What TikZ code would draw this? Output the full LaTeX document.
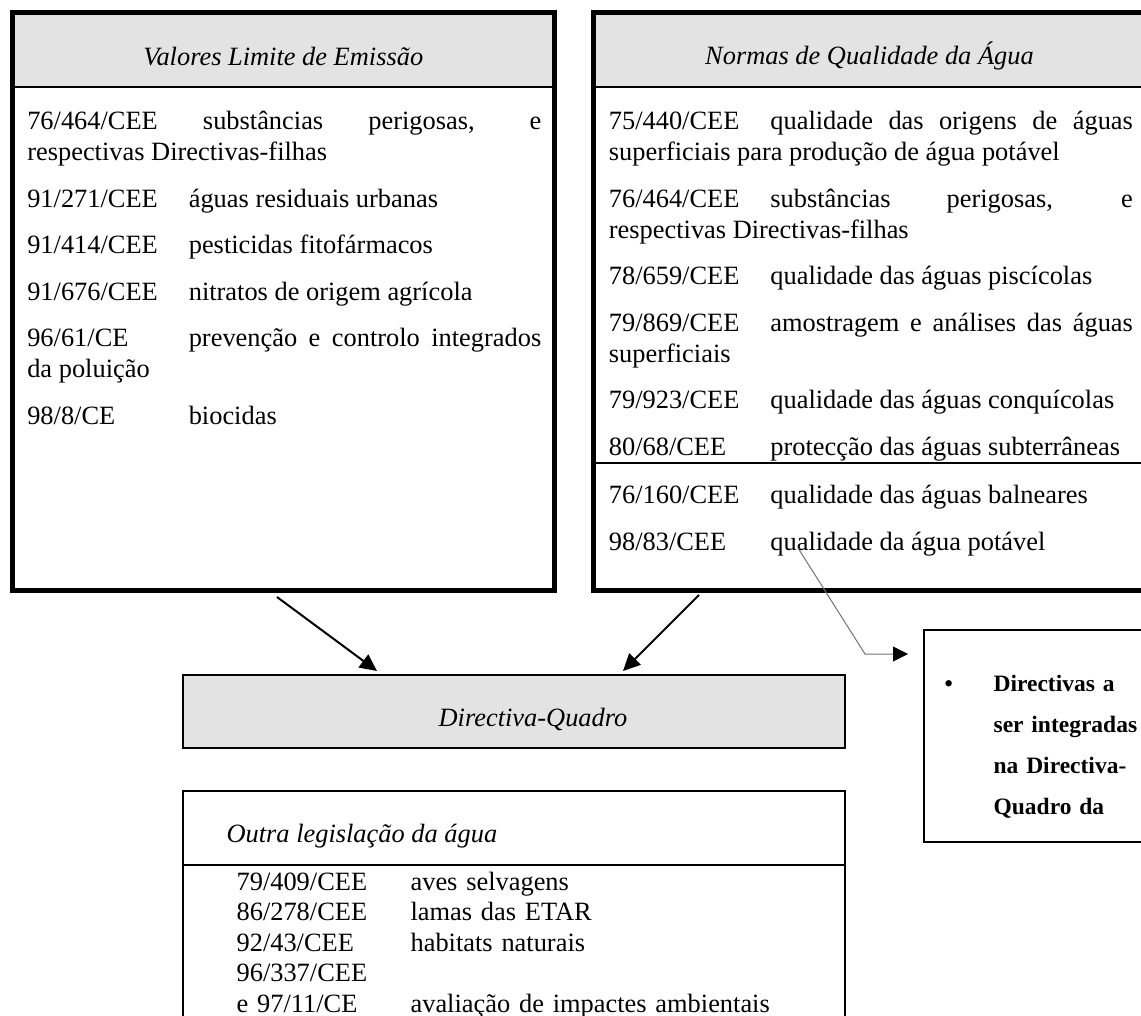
\documentclass[tikz,border=0pt]{standalone}
\usepackage{fontspec}
\setmainfont{Liberation Serif}
\usetikzlibrary{arrows.meta}

\definecolor{cabeca}{gray}{0.89}
\newcommand{\corpo}{\fontsize{13.2pt}{15.5pt}\selectfont\hyphenpenalty=10000\exhyphenpenalty=10000}
\newcommand{\destaque}{\fontsize{11.75pt}{20.5pt}\selectfont\bfseries}
\newcommand{\cod}[1]{\makebox[80.75pt][l]{#1}}
\newcommand{\codol}[1]{\makebox[87pt][l]{#1}}

\begin{document}
\begin{tikzpicture}[x=0.5pt, y=-0.5pt, >={Triangle[length=8.5pt,width=8pt]}, semithick,
    quadro/.style={draw, line width=2.5pt, inner sep=0pt, outer sep=0pt,
        minimum width=#1, minimum height=289pt,
        path picture={
            \fill[cabeca] (path picture bounding box.north west) rectangle ([yshift=-37.25pt]path picture bounding box.north east);
            \draw[line width=1.2pt] ([yshift=-37.25pt]path picture bounding box.north west) -- ([yshift=-37.25pt]path picture bounding box.north east);
        }},
    caixa/.style={draw, line width=1pt, inner sep=0pt, outer sep=0pt},
    titulo/.style={anchor=base, inner sep=0pt, font=\corpo\itshape},
    lista/.style={anchor=base west, inner sep=0pt, align=justify, font=\corpo},
    seta/.style={->, line width=1pt}]
    \useasboundingbox (0,0) rectangle (1141,1016);

    % the two framed tables at the top
    \node[quadro=271.25pt] (VLE) at (283.25,301.5) {};
    \node[quadro=276.5pt]  (NQA) at (869.5,301.5) {};
    \draw[line width=1pt] ([yshift=-225.25pt]NQA.north west) -- ([yshift=-225.25pt]NQA.north east);

    \node[titulo] (VLEt) at (283.25,66) {Valores Limite de Emissão};
    \node[titulo] (NQAt) at (869.5,65)  {Normas de Qualidade da Água};

    \node[lista, text width=257pt] (VLEl) at (26.7,130) {\setlength{\parskip}{7.75pt}%
        76/464/CEE substâncias perigosas, e\linebreak respectivas Directivas-filhas\par
        \cod{91/271/CEE}águas residuais urbanas\par
        \cod{91/414/CEE}pesticidas fitofármacos\par
        \cod{91/676/CEE}nitratos de origem agrícola\par
        \cod{96/61/CE}prevenção e controlo integrados\linebreak da poluição\par
        \cod{98/8/CE}biocidas};

    \node[lista, text width=262pt] (NQAl) at (608.3,130) {\setlength{\parskip}{7.75pt}%
        \cod{75/440/CEE}qualidade das origens de águas\linebreak superficiais para produção de água potável\par
        \cod{76/464/CEE}substâncias perigosas, e\linebreak respectivas Directivas-filhas\par
        \cod{78/659/CEE}qualidade das águas piscícolas\par
        \cod{79/869/CEE}amostragem e análises das águas\linebreak superficiais\par
        \cod{79/923/CEE}qualidade das águas conquícolas\par
        \cod{80/68/CEE}protecção das águas subterrâneas};

    \node[lista, text width=262pt] (NQAb) at (608.3,503.5) {\setlength{\parskip}{7.75pt}%
        \cod{76/160/CEE}qualidade das águas balneares\par
        \cod{98/83/CEE}qualidade da água potável};

    % framework directive
    \node[caixa, fill=cabeca, minimum width=331pt, minimum height=36.5pt] (DQ) at (514,711.5) {};
    \node[titulo] (DQt) at (533,726) {Directiva-Quadro};

    % other legislation
    \node[caixa, minimum width=331pt, minimum height=124.5pt] (OL) at (514,915.5) {};
    \draw[line width=1pt] ([yshift=-37pt]OL.north west) -- ([yshift=-37pt]OL.north east);
    \node[anchor=base west, inner sep=0pt, font=\corpo\itshape] (OLt) at (226,842) {Outra legislação da água};
    \node[anchor=base west, inner sep=0pt, text width=300pt, align=left,
          font={\fontsize{13.2pt}{15.25pt}\selectfont}] (OLl) at (236,890) {%
        \codol{79/409/CEE}aves selvagens\par
        \codol{86/278/CEE}lamas das ETAR\par
        \codol{92/43/CEE}habitats naturais\par
        96/337/CEE\par
        \codol{e 97/11/CE}avaliação de impactes ambientais};

    % directives to be integrated
    \node[draw, line width=0.6pt, inner sep=0pt, outer sep=0pt, minimum width=123pt, minimum height=106pt] (INT) at (1047,736) {};
    \node[anchor=base west, inner sep=0pt, font=\destaque] (bul) at (944,691.7) {\textbullet};
    \node[anchor=base west, inner sep=0pt, text width=80pt, align=left, font=\destaque] (INTt) at (993,691.7)
        {Directivas a\\ser integradas\\na Directiva-\\Quadro da};

    % connectors
    \draw[seta] ([xshift=132.5pt,yshift=-3.25pt]VLE.south west) -- ([xshift=97pt,yshift=2pt]DQ.north west);
    \draw[seta] ([xshift=53pt,yshift=-2.25pt]NQA.south west) -- ([xshift=220pt,yshift=2pt]DQ.north west);

    \coordinate (q) at (798,548);
    \coordinate (dobra) at (865,654);
    \draw[black!55, line width=0.5pt, -{Triangle[length=7.5pt,width=7.5pt,color=black]}]
        (q) -- (dobra) -- ([xshift=-8pt,yshift=-12pt]INT.north west);
\end{tikzpicture}
\end{document}
